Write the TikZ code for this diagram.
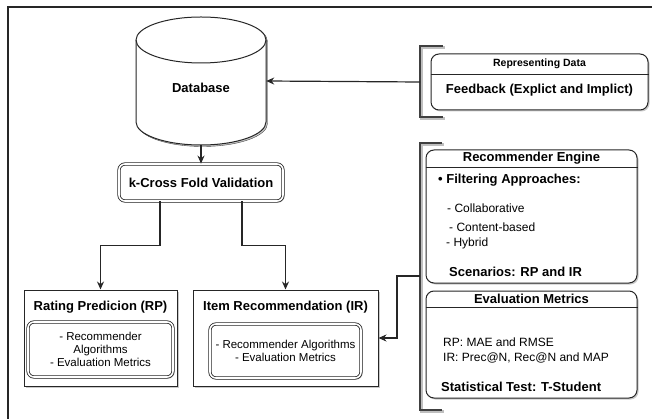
\documentclass[tikz,border=0pt]{standalone}
\usepackage{fontspec}
\setmainfont{Liberation Sans}
\usetikzlibrary{arrows.meta, shadows}
\tikzset{
    shade/.style={drop shadow={shadow xshift=1.5pt,shadow yshift=-1.5pt,fill=black!30,opacity=.7}},
    tbox/.style={draw=black!85,fill=white,line width=1pt,inner sep=0pt,shade},
    dbox/.style={tbox,rounded corners=6pt,double=white,double distance=1.6pt,line width=0.8pt},
    panel/.style={tbox,rounded corners=8pt},
    tt/.style={fill=none,draw=none,inner sep=0pt,text=black},
    bt/.style={tt,font=\fontsize{13}{15}\selectfont\bfseries},
    st/.style={tt,font=\fontsize{11.5}{13}\selectfont,align=center},
    et/.style={tt,font=\fontsize{12}{15}\selectfont,anchor=west},
    brk/.style={draw=black!75,line width=2.4pt,
        preaction={draw=black!25,line width=2.4pt,transform canvas={shift={(1.5pt,-1.5pt)}}}},
    flow/.style={draw=black!85,line width=1.2pt,-{Stealth[length=8pt,width=7pt]}},
}

\begin{document}
\begin{tikzpicture}[x=1pt,y=1pt]
\path[use as bounding box] (0,0) rectangle (652,-419);
% frame
\draw[line width=1.6pt,black!85] (8,-419) -- (8,-7) -- (652,-7);

% database
\draw[fill=black!30,opacity=.7] (137.5,-41.5) -- (137.5,-123.5) arc[start angle=180,end angle=360,x radius=65,y radius=23] -- (267.5,-41.5) arc[start angle=0,end angle=180,x radius=65,y radius=23] -- cycle;
\draw[draw=black!85,line width=1pt,fill=white] (136,-40) -- (136,-122) arc[start angle=180,end angle=360,x radius=65,y radius=23] -- (266,-40) arc[start angle=0,end angle=180,x radius=65,y radius=23] -- cycle;
\draw[draw=black!85,line width=1pt] (136,-40) arc[start angle=180,end angle=360,x radius=65,y radius=23];
\node[tt,minimum width=130,minimum height=128] (db) at (201,-81) {};
\node[bt] (dbtext) at (201,-88) {Database};

% left side
\node[dbox,minimum width=164,minimum height=37] (kfold) at (201,-182.5) {};
\node[bt] (kfoldtext) at (kfold) {k-Cross Fold Validation};

\node[tbox,minimum width=153,minimum height=96] (rp) at (100.5,-338) {};
\node[bt] (rptitle) at (100.5,-307) {Rating Predicion (RP)};
\node[dbox,minimum width=145,minimum height=55] (rpin) at (100.5,-349.5) {};
\node[st] (rptext) at (rpin) {- Recommender\\Algorithms\\- Evaluation Metrics};

\node[tbox,minimum width=185,minimum height=96] (ir) at (285.5,-338) {};
\node[bt] (irtitle) at (285.5,-307) {Item Recommendation (IR)};
\node[dbox,minimum width=151,minimum height=54] (irin) at (285.5,-351) {};
\node[st] (irtext) at (irin) {- Recommender Algorithms\\- Evaluation Metrics};

% right side
\draw[brk] (443,-46) -- (420,-46) -- (420,-117) -- (443,-117);
\coordinate (brA) at (420,-82);
\node[panel,minimum width=217,minimum height=56] (repr) at (539.5,-82) {};
\draw[draw=black!85,line width=1pt] (repr.west |- 0,-75) -- (repr.east |- 0,-75);
\node[tt,font=\fontsize{10.5}{12}\selectfont\bfseries] (reprhead) at (539.5,-64) {Representing Data};
\node[bt] (feedback) at (539.5,-90) {Feedback (Explict and Implict)};

\draw[brk] (442,-143) -- (420,-143) -- (420,-410) -- (442,-410);
\coordinate (brB) at (420,-276);
\node[panel,minimum width=211,minimum height=133] (engine) at (531.5,-216.5) {};
\draw[draw=black!85,line width=1pt] (engine.west |- 0,-168) -- (engine.east |- 0,-168);
\node[bt] (enginehead) at (531.5,-158) {Recommender Engine};
\node[et,font=\fontsize{13}{15}\selectfont\bfseries] (filt) at (438,-180) {\textbullet\ Filtering Approaches:};
\node[et] (collab) at (447,-208) {- Collaborative};
\node[et] (content) at (449,-227) {- Content-based};
\node[et] (hybrid) at (446,-243) {- Hybrid};
\node[et,font=\fontsize{13}{15}\selectfont\bfseries] (scen) at (449,-272) {Scenarios: RP and IR};

\node[panel,minimum width=211,minimum height=107] (evalm) at (531.5,-344.5) {};
\draw[draw=black!85,line width=1pt] (evalm.west |- 0,-307) -- (evalm.east |- 0,-307);
\node[bt] (evalhead) at (531.5,-299) {Evaluation Metrics};
\node[et] (rpmet) at (443,-342) {RP: MAE and RMSE};
\node[et] (irmet) at (443,-358) {IR: Prec@N, Rec@N and MAP};
\node[et,font=\fontsize{13}{15}\selectfont\bfseries] (stat) at (441,-387) {Statistical Test: T-Student};

% connectors
\path[flow] (brA) -- (db.east);
\path[flow] (db.south) -- (kfold.north);
\path[flow] ([xshift=-41pt]kfold.south) -- ++(0,-44) -| (rp.north);
\path[flow] ([xshift=41pt]kfold.south) -- ++(0,-44) -| (ir.north);
\path[flow] (brB) -- ++(-23,0) |- (ir.east);
\end{tikzpicture}
\end{document}
